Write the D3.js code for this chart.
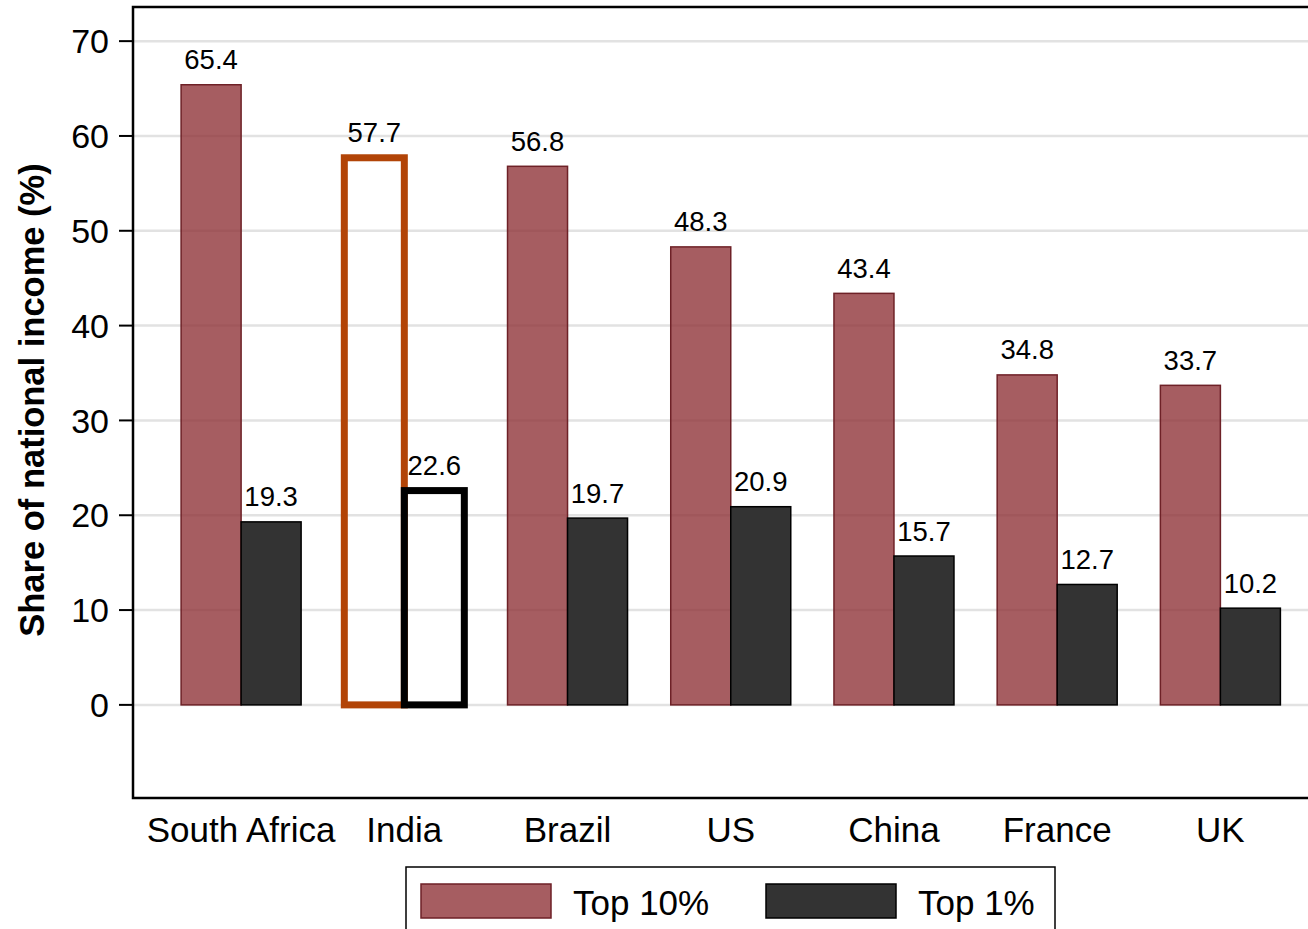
<!DOCTYPE html>
<html><head><meta charset="utf-8">
<script src="https://cdn.jsdelivr.net/npm/d3@7"></script>
<style>body{margin:0;background:#fff}svg{display:block}text{font-family:"Liberation Sans",Arial,Helvetica,sans-serif}</style>
</head><body><svg id="c" width="1308" height="929"></svg>
<script>
const countries = ["South Africa","India","Brazil","US","China","France","UK"];
const top10 = [65.4,57.7,56.8,48.3,43.4,34.8,33.7];
const top1 = [19.3,22.6,19.7,20.9,15.7,12.7,10.2];
const yTicks = [0,10,20,30,40,50,60,70];
const seriesNames = ["Top 10%","Top 1%"];
const highlight = "India";

const svg = d3.select("#c");
const L = 133, R = 1310, T = 7, B = 798;
const y = d3.scaleLinear().domain([-9.82, 73.6]).range([B, T]);
const x = d3.scaleBand().domain(countries).range([159.5, 1302]).padding(0);
const inner = d3.scaleBand().domain(seriesNames).range([0, x.bandwidth()]).paddingOuter(0.36).paddingInner(0);

const redFill = "#903539", redOp = 0.8, redStroke = "#6e2127", darkFill = "#333333";

// gridlines
svg.append("g").selectAll("line").data(yTicks).join("line")
  .attr("x1", L).attr("x2", R).attr("y1", d => y(d)).attr("y2", d => y(d))
  .attr("stroke", "#e2e2e2").attr("stroke-width", 2.5);

const rows = countries.map((c, i) => ({c, v: [top10[i], top1[i]]}));
const g = svg.append("g");
rows.forEach(r => {
  seriesNames.forEach((s, k) => {
    const v = r.v[k];
    const x0 = x(r.c) + inner(s), w = inner.bandwidth();
    if (r.c === highlight) {
      g.append("rect").attr("x", x0).attr("y", y(v)).attr("width", w).attr("height", y(0) - y(v))
        .attr("fill", "none").attr("stroke", k === 0 ? "#b24407" : "#000").attr("stroke-width", 7);
    } else {
      g.append("rect").attr("x", x0).attr("y", y(v)).attr("width", w).attr("height", y(0) - y(v))
        .attr("fill", k === 0 ? redFill : darkFill).attr("fill-opacity", k === 0 ? redOp : 1)
        .attr("stroke", k === 0 ? redStroke : "#000").attr("stroke-width", 1.5);
    }
    g.append("text").attr("x", x0 + w / 2).attr("y", y(v) - 15.5)
      .attr("text-anchor", "middle").attr("font-size", 27.5).attr("fill", "#000").text(v.toFixed(1));
  });
});

// frame
svg.append("path").attr("d", `M${R},${T}H${L}V${B}H${R}`).attr("fill", "none").attr("stroke", "#000").attr("stroke-width", 2.5);

// y axis ticks
const ya = svg.append("g");
yTicks.forEach(t => {
  ya.append("line").attr("x1", L - 14).attr("x2", L).attr("y1", y(t)).attr("y2", y(t)).attr("stroke", "#000").attr("stroke-width", 2);
  ya.append("text").attr("x", L - 24).attr("y", y(t)).attr("dy", "0.36em").attr("text-anchor", "end")
    .attr("font-size", 34).text(t);
});
svg.append("text").attr("transform", `translate(44,400) rotate(-90)`).attr("text-anchor", "middle")
  .attr("font-size", 34.5).attr("font-weight", "bold").text("Share of national income (%)");

// x labels
countries.forEach(c => {
  svg.append("text").attr("x", x(c) + x.bandwidth() / 2).attr("y", 842).attr("text-anchor", "middle")
    .attr("font-size", 35).text(c);
});

// legend
const lg = svg.append("g");
lg.append("rect").attr("x", 406).attr("y", 867).attr("width", 649).attr("height", 80).attr("fill", "#fff").attr("stroke", "#000").attr("stroke-width", 1.5);
[[421, 573, redFill, redStroke, redOp], [766, 918, darkFill, "#000", 1]].forEach((d, i) => {
  lg.append("rect").attr("x", d[0]).attr("y", 884).attr("width", 130).attr("height", 34)
    .attr("fill", d[2]).attr("fill-opacity", d[4]).attr("stroke", d[3]).attr("stroke-width", 1.5);
  lg.append("text").attr("x", d[1]).attr("y", 915).attr("font-size", 35).text(seriesNames[i]);
});
</script></body></html>
